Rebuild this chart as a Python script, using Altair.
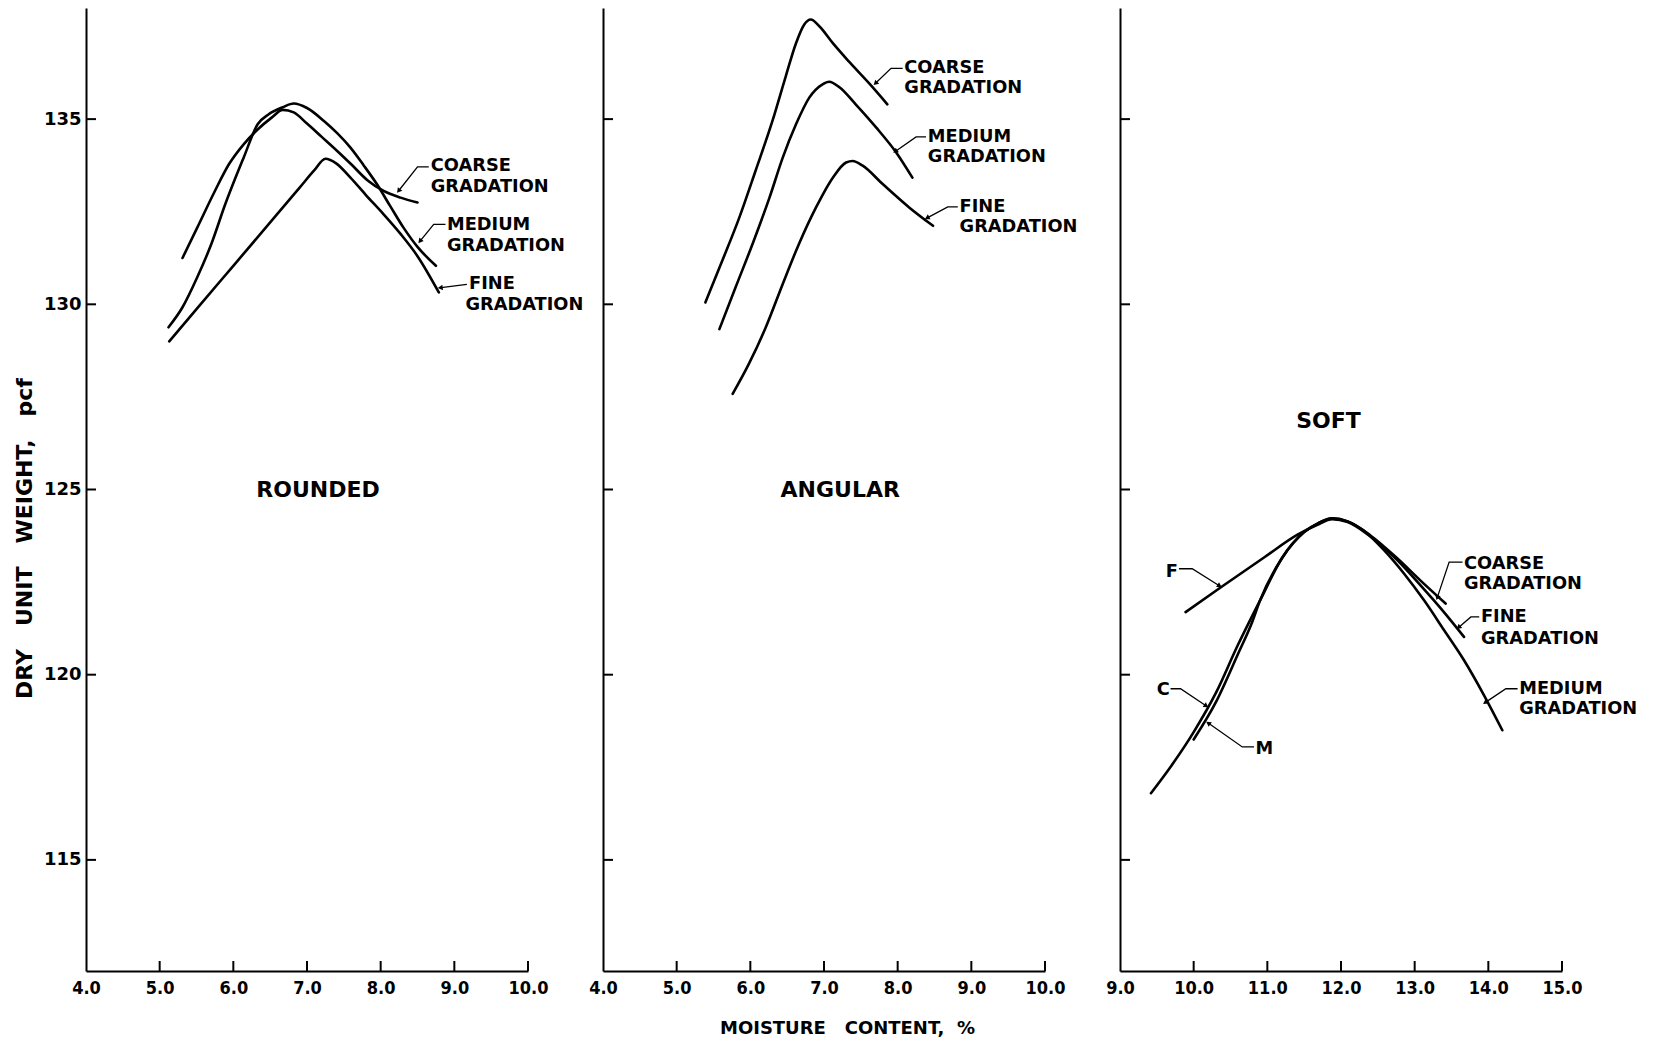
import math
import altair as alt
import pandas as pd

# ---------------- data ----------------
# ROUNDED
ROUNDED_COARSE_X = [5.31, 5.51, 5.75, 5.94, 6.14, 6.33, 6.52, 6.67, 6.82, 7.0, 7.2, 7.41, 7.6, 7.82, 8.04, 8.27, 8.5]
ROUNDED_COARSE_Y = [131.25, 132.07, 133.06, 133.78, 134.32, 134.72, 135.04, 135.25, 135.18, 134.88, 134.52, 134.14, 133.78, 133.35, 133.06, 132.88, 132.75]
ROUNDED_MEDIUM_X = [5.12, 5.31, 5.51, 5.70, 5.89, 6.14, 6.33, 6.48, 6.67, 6.82, 7.0, 7.23, 7.41, 7.59, 7.77, 7.95, 8.13, 8.31, 8.5, 8.75]
ROUNDED_MEDIUM_Y = [129.38, 129.92, 130.73, 131.62, 132.70, 133.96, 134.86, 135.13, 135.32, 135.42, 135.3, 134.95, 134.62, 134.23, 133.75, 133.24, 132.65, 132.07, 131.55, 131.04]
ROUNDED_FINE_X = [5.13, 5.5, 6.0, 6.5, 6.9, 7.1, 7.25, 7.4, 7.59, 7.8, 8.04, 8.27, 8.5, 8.79]
ROUNDED_FINE_Y = [129.0, 129.87, 131.04, 132.21, 133.15, 133.62, 133.93, 133.8, 133.42, 132.95, 132.43, 131.9, 131.3, 130.32]

# ANGULAR
ANGULAR_COARSE_X = [5.39, 5.62, 5.85, 6.07, 6.30, 6.48, 6.62, 6.73, 6.82, 6.94, 7.12, 7.34, 7.62, 7.86]
ANGULAR_COARSE_Y = [130.05, 131.18, 132.34, 133.60, 134.95, 136.15, 137.05, 137.55, 137.69, 137.5, 137.05, 136.55, 135.95, 135.40]
ANGULAR_MEDIUM_X = [5.58, 5.80, 6.03, 6.26, 6.44, 6.62, 6.80, 6.98, 7.07, 7.21, 7.43, 7.71, 7.98, 8.20]
ANGULAR_MEDIUM_Y = [129.33, 130.46, 131.63, 132.88, 133.96, 134.86, 135.58, 135.94, 136.01, 135.86, 135.40, 134.77, 134.10, 133.42]
ANGULAR_FINE_X = [5.76, 5.98, 6.21, 6.44, 6.66, 6.89, 7.12, 7.30, 7.39, 7.52, 7.80, 8.16, 8.48]
ANGULAR_FINE_Y = [127.58, 128.39, 129.38, 130.55, 131.63, 132.61, 133.42, 133.83, 133.87, 133.75, 133.24, 132.61, 132.12]

# SOFT
SOFT_COARSE_X = [9.42, 9.7, 10.0, 10.3, 10.6, 10.9, 11.2, 11.5, 11.7, 11.88, 12.09, 12.40, 12.77, 13.08, 13.42]
SOFT_COARSE_Y = [116.8, 117.55, 118.45, 119.5, 120.8, 122.0, 123.15, 123.85, 124.1, 124.22, 124.14, 123.76, 123.13, 122.54, 121.92]
SOFT_MEDIUM_X = [10.0, 10.3, 10.6, 10.8, 10.9, 11.2, 11.5, 11.7, 11.88, 12.09, 12.31, 12.59, 12.86, 13.13, 13.40, 13.67, 13.94, 14.19]
SOFT_MEDIUM_Y = [118.25, 119.25, 120.55, 121.45, 122.0, 123.15, 123.85, 124.1, 124.22, 124.14, 123.89, 123.35, 122.72, 122.0, 121.2, 120.39, 119.45, 118.5]
SOFT_FINE_X = [9.89, 10.37, 10.96, 11.41, 11.68, 11.88, 12.09, 12.40, 12.77, 13.08, 13.38, 13.67]
SOFT_FINE_Y = [121.69, 122.36, 123.17, 123.78, 124.05, 124.2, 124.12, 123.73, 123.08, 122.41, 121.73, 121.02]

# annotation texts (left x, centre y)
ROUNDED_TEXT = ["COARSE", "GRADATION", "MEDIUM", "GRADATION", "FINE", "GRADATION"]
ROUNDED_TEXT_X = [8.68, 8.68, 8.90, 8.90, 9.20, 9.15]
ROUNDED_TEXT_Y = [133.74, 133.17, 132.15, 131.58, 130.56, 129.98]
ANGULAR_TEXT = ["COARSE", "GRADATION", "MEDIUM", "GRADATION", "FINE", "GRADATION"]
ANGULAR_TEXT_X = [8.09, 8.09, 8.41, 8.41, 8.84, 8.84]
ANGULAR_TEXT_Y = [136.37, 135.85, 134.52, 133.98, 132.63, 132.09]
SOFT_TEXT = ["F", "C", "M", "COARSE", "GRADATION", "FINE", "GRADATION", "MEDIUM", "GRADATION"]
SOFT_TEXT_X = [9.62, 9.50, 10.84, 13.67, 13.67, 13.90, 13.90, 14.42, 14.42]
SOFT_TEXT_Y = [122.77, 119.58, 118.0, 122.99, 122.44, 121.56, 120.97, 119.62, 119.08]

# leader lines (text end -> elbow -> arrow tip)
ROUNDED_LEADERS = [
    [(8.653, 133.71), (8.50, 133.71), (8.25, 133.08)],
    [(8.88, 132.16), (8.72, 132.16), (8.54, 131.72)],
    [(9.17, 130.54), (8.82, 130.45)],
]
ANGULAR_LEADERS = [
    [(8.068, 136.37), (7.91, 136.37), (7.706, 135.98)],
    [(8.385, 134.52), (8.25, 134.52), (7.977, 134.14)],
    [(8.816, 132.63), (8.68, 132.63), (8.408, 132.34)],
]
SOFT_LEADERS = [
    [(9.80, 122.86), (9.98, 122.86), (10.343, 122.41)],
    [(9.686, 119.62), (9.822, 119.62), (10.162, 119.17)],
    [(10.819, 118.05), (10.66, 118.05), (10.207, 118.68)],
    [(13.65, 123.04), (13.468, 123.04), (13.31, 122.1)],
    [(13.876, 121.56), (13.763, 121.56), (13.604, 121.29)],
    [(14.397, 119.62), (14.238, 119.62), (13.966, 119.26)],
]

PANEL_TITLES = ["ROUNDED", "ANGULAR", "SOFT"]
PANEL_TITLE_X = [7.15, 7.22, 11.83]
PANEL_TITLE_Y = [125.0, 125.0, 126.85]

XTICKS_A = [4.0, 5.0, 6.0, 7.0, 8.0, 9.0, 10.0]
XTICKS_B = [9.0, 10.0, 11.0, 12.0, 13.0, 14.0, 15.0]
YTICKS = [115, 120, 125, 130, 135]
YDOM = [112, 138]

NB = "\u00a0"
Y_TITLE = "DRY" + NB * 3 + "UNIT" + NB * 3 + "WEIGHT," + NB * 3 + "pcf"
X_TITLE = "MOISTURE" + NB * 3 + "CONTENT," + NB * 2 + "%"

# ---------------- styling ----------------
FONT = "DejaVu Sans"
COND = "DejaVu Sans Condensed, DejaVu Sans"
W, H = 442, 963
SX = W / 6.0
SY = H / (YDOM[1] - YDOM[0])


def curves_df(series):
    rows = []
    for name, xs, ys in series:
        for x, y in zip(xs, ys):
            rows.append({"series": name, "x": x, "y": y})
    return pd.DataFrame(rows)


def leaders_df(leaders):
    rows = []
    for i, pts in enumerate(leaders):
        for k, (x, y) in enumerate(pts):
            rows.append({"lid": i, "k": k, "x": x, "y": y})
    return pd.DataFrame(rows)


def arrows_df(leaders):
    rows = []
    for pts in leaders:
        (x1, y1), (x2, y2) = pts[-2], pts[-1]
        dx = (x2 - x1) * SX
        dy = -(y2 - y1) * SY
        ang = math.degrees(math.atan2(dx, -dy)) % 360
        rows.append({"x": x2, "y": y2, "ang": ang})
    return pd.DataFrame(rows)


def make_panel(series, texts, tx, ty, leaders, idx, xticks, first, xtitle):
    xs = alt.Scale(domain=[xticks[0], xticks[-1]], nice=False, zero=False)
    ys = alt.Scale(domain=YDOM, nice=False, zero=False)
    xkw = dict(values=xticks, format=".1f", ticks=False, labelFont=COND, labelFontSize=18,
               labelFontWeight="bold", labelColor="black", labelPadding=8, labelFlush=False,
               labelOverlap=False, domainColor="black", domainWidth=2, grid=False)
    if xtitle:
        xkw.update(title=xtitle, titleFont=FONT, titleFontSize=18, titleFontWeight="bold",
                   titleColor="black", titleX=244, titleY=57, titleBaseline="middle", titleAlign="center")
    else:
        xkw.update(title=None)
    if first:
        ykw = dict(values=YTICKS, format="d", ticks=False, labelFont=FONT, labelFontSize=18,
                   labelFontWeight="bold", labelColor="black", labelPadding=5, labelFlush=False,
                   labelOverlap=False, domainColor="black", domainWidth=2, grid=False,
                   title=Y_TITLE, titleFont=FONT, titleFontSize=22,
                   titleFontWeight="bold", titleColor="black", titleAngle=270,
                   titleX=-62, titleY=530, titleBaseline="middle", titleAlign="center")
    else:
        ykw = dict(labels=False, ticks=False, title=None, domainColor="black", domainWidth=2, grid=False)

    X = alt.X("x:Q", scale=xs, axis=alt.Axis(**xkw))
    Y = alt.Y("y:Q", scale=ys, axis=alt.Axis(**ykw))

    curves = alt.Chart(curves_df(series)).mark_line(
        interpolate="monotone", color="black", strokeWidth=2.6, strokeCap="round"
    ).encode(x=X, y=Y, detail="series:N")

    lead = alt.Chart(leaders_df(leaders)).mark_line(color="black", strokeWidth=1.3).encode(
        x=X, y=Y, detail="lid:N", order="k:Q")

    arrows = alt.Chart(arrows_df(leaders)).mark_point(
        shape="triangle", filled=True, color="black", opacity=1, size=32
    ).encode(x=X, y=Y, angle=alt.Angle("ang:Q", scale=None))

    text = alt.Chart(pd.DataFrame({"x": texts[1], "y": texts[2], "t": texts[0]})).mark_text(
        align="left", baseline="middle", font=FONT, fontSize=17.8, fontWeight="bold", color="black"
    ).encode(x=X, y=Y, text="t:N")

    ttl = alt.Chart(pd.DataFrame({"x": [tx[idx]], "y": [ty[idx]], "t": [PANEL_TITLES[idx]]})).mark_text(
        align="center", baseline="middle", font=FONT, fontSize=22, fontWeight="bold", color="black"
    ).encode(x=X, y=Y, text="t:N")

    ytk = alt.Chart(pd.DataFrame({"y": YTICKS})).mark_rule(color="black", strokeWidth=2).encode(
        y=Y, x=alt.value(0), x2=alt.value(10))
    xtk = alt.Chart(pd.DataFrame({"x": xticks[1:]})).mark_rule(color="black", strokeWidth=2).encode(
        x=X, y=alt.value(H), y2=alt.value(H - 10))

    return alt.layer(curves, lead, arrows, text, ttl, ytk, xtk).properties(width=W, height=H)


p1 = make_panel(
    [("COARSE", ROUNDED_COARSE_X, ROUNDED_COARSE_Y), ("MEDIUM", ROUNDED_MEDIUM_X, ROUNDED_MEDIUM_Y),
     ("FINE", ROUNDED_FINE_X, ROUNDED_FINE_Y)],
    (ROUNDED_TEXT, ROUNDED_TEXT_X, ROUNDED_TEXT_Y), PANEL_TITLE_X, PANEL_TITLE_Y,
    ROUNDED_LEADERS, 0, XTICKS_A, True, None)
p2 = make_panel(
    [("COARSE", ANGULAR_COARSE_X, ANGULAR_COARSE_Y), ("MEDIUM", ANGULAR_MEDIUM_X, ANGULAR_MEDIUM_Y),
     ("FINE", ANGULAR_FINE_X, ANGULAR_FINE_Y)],
    (ANGULAR_TEXT, ANGULAR_TEXT_X, ANGULAR_TEXT_Y), PANEL_TITLE_X, PANEL_TITLE_Y,
    ANGULAR_LEADERS, 1, XTICKS_A, False, X_TITLE)
p3 = make_panel(
    [("COARSE", SOFT_COARSE_X, SOFT_COARSE_Y), ("MEDIUM", SOFT_MEDIUM_X, SOFT_MEDIUM_Y),
     ("FINE", SOFT_FINE_X, SOFT_FINE_Y)],
    (SOFT_TEXT, SOFT_TEXT_X, SOFT_TEXT_Y), PANEL_TITLE_X, PANEL_TITLE_Y,
    SOFT_LEADERS, 2, XTICKS_B, False, None)

chart = alt.hconcat(p1, p2, p3, spacing=75, bounds="flush").properties(
    padding={"left": 5, "top": 0, "right": 0, "bottom": 0}
).configure(background="white").configure_view(stroke=None)

chart.save("out.html", embed_options={"renderer": "svg", "actions": False})
